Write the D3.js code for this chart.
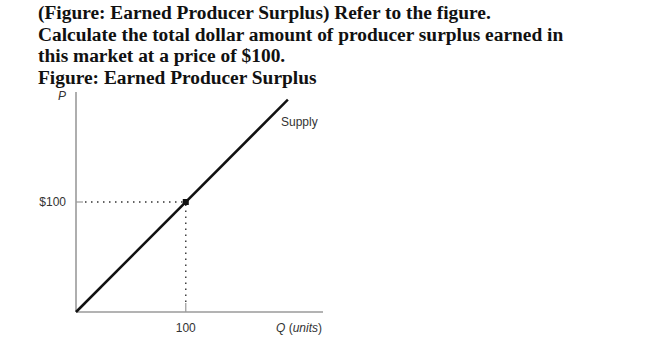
<!DOCTYPE html>
<html>
<head>
<meta charset="utf-8">
<script src="https://cdn.jsdelivr.net/npm/d3@7"></script>
<style>
  body { margin: 0; background: #fff; }
  svg { display: block; }
</style>
</head>
<body>
<div id="chart"></div>
<script>
const width = 650;
const height = 339;

// Question text
const titleLines = [
    "(Figure: Earned Producer Surplus) Refer to the figure.",
    "Calculate the total dollar amount of producer surplus earned in",
    "this market at a price of $100.",
    "Figure: Earned Producer Surplus"
];

// Supply curve (Q, P) and the marked point
const supplyQ = [0, 193];
const supplyP = [0, 193];
const markedQ = [100];
const markedP = [100];
const xTicks = [100];
const yTicks = [100];

const origin = { x: 76, y: 312 };

const x = d3.scaleLinear().domain([0, 225]).range([origin.x, origin.x + 247]);
const y = d3.scaleLinear().domain([0, 200]).range([origin.y, origin.y - 220]);

const svg = d3.select("#chart")
    .append("svg")
    .attr("width", width)
    .attr("height", height);

// Title block
svg.append("g")
    .selectAll("text")
    .data(titleLines)
    .join("text")
    .attr("x", 38)
    .attr("y", (d, i) => 19 + i * 21.7)
    .style("font-family", "'Liberation Serif', 'Times New Roman', serif")
    .style("font-weight", "bold")
    .style("font-size", "19.4px")
    .attr("fill", "#111")
    .text(d => d);

// Axes (plain lines, no default ticks)
const axisColor = "#9a9a9a";
svg.append("line")
    .attr("x1", x(0)).attr("y1", y(0))
    .attr("x2", x(225)).attr("y2", y(0))
    .attr("stroke", axisColor).attr("stroke-width", 1.6);
svg.append("line")
    .attr("x1", x(0)).attr("y1", y(0))
    .attr("x2", x(0)).attr("y2", y(200))
    .attr("stroke", axisColor).attr("stroke-width", 1.6);

const labelFont = "'Liberation Sans', Arial, sans-serif";

// Short ticks
svg.selectAll(".xtick")
    .data(xTicks)
    .join("line")
    .attr("x1", d => x(d)).attr("x2", d => x(d))
    .attr("y1", y(0)).attr("y2", y(0) - 9)
    .attr("stroke", axisColor).attr("stroke-width", 1.2);
svg.selectAll(".ytick")
    .data(yTicks)
    .join("line")
    .attr("x1", x(0)).attr("x2", x(0) + 7)
    .attr("y1", d => y(d)).attr("y2", d => y(d))
    .attr("stroke", axisColor).attr("stroke-width", 1.2);

// Dotted guides to the point
const guides = svg.append("g")
    .attr("stroke", "#333")
    .attr("stroke-width", 1.4)
    .attr("stroke-dasharray", "1.5 4.5");
markedQ.forEach((q, i) => {
    guides.append("line")
        .attr("x1", x(0) + 9).attr("y1", y(markedP[i]))
        .attr("x2", x(q)).attr("y2", y(markedP[i]));
    guides.append("line")
        .attr("x1", x(q)).attr("y1", y(0) - 10)
        .attr("x2", x(q)).attr("y2", y(markedP[i]));
});

// Supply curve
svg.append("path")
    .datum(supplyQ.map((q, i) => [q, supplyP[i]]))
    .attr("d", d3.line().x(d => x(d[0])).y(d => y(d[1])))
    .attr("fill", "none")
    .attr("stroke", "#111")
    .attr("stroke-width", 2.5);

// Marked point
svg.selectAll(".pt")
    .data(markedQ)
    .join("rect")
    .attr("x", d => x(d) - 3)
    .attr("y", (d, i) => y(markedP[i]) - 3)
    .attr("width", 6).attr("height", 6)
    .attr("fill", "#111");

// Tick labels
svg.selectAll(".xlab")
    .data(xTicks)
    .join("text")
    .attr("x", d => x(d))
    .attr("y", 332)
    .attr("text-anchor", "middle")
    .style("font-family", labelFont).style("font-size", "12px")
    .attr("fill", "#333")
    .text(d => d);
svg.selectAll(".ylab")
    .data(yTicks)
    .join("text")
    .attr("x", 66)
    .attr("y", d => y(d) + 4)
    .attr("text-anchor", "end")
    .style("font-family", labelFont).style("font-size", "12px")
    .attr("fill", "#333")
    .text(d => "$" + d);

// Axis titles
svg.append("text")
    .attr("x", 62).attr("y", 100)
    .attr("text-anchor", "middle")
    .style("font-family", labelFont).style("font-size", "12px")
    .style("font-style", "italic")
    .attr("fill", "#333")
    .text("P");

const qLabel = svg.append("text")
    .attr("x", 322).attr("y", 332)
    .attr("text-anchor", "end")
    .style("font-family", labelFont).style("font-size", "12px")
    .attr("fill", "#333");
qLabel.append("tspan").style("font-style", "italic").text("Q");
qLabel.append("tspan").text(" (");
qLabel.append("tspan").style("font-style", "italic").text("units");
qLabel.append("tspan").text(")");

// Curve label
svg.append("text")
    .attr("x", 281).attr("y", 126)
    .style("font-family", labelFont).style("font-size", "12px")
    .attr("fill", "#333")
    .text("Supply");
</script>
</body>
</html>
